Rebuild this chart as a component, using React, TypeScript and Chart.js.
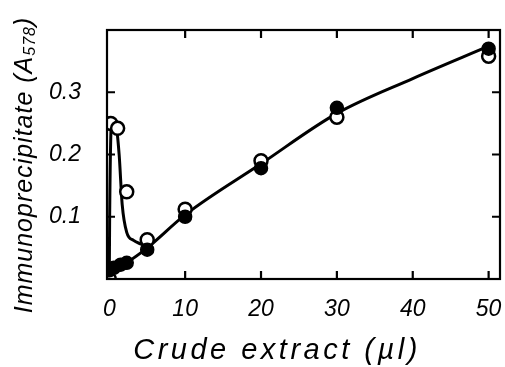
import React, { useEffect, useRef } from "react";
import { Chart, registerables } from "chart.js";

Chart.register(...registerables);

// Data
const openX = [0, 0.2, 1.1, 2.3, 5, 10, 20, 30, 50];
const openY = [0.0, 0.25, 0.242, 0.14, 0.063, 0.112, 0.19, 0.26, 0.358];
const filledX = [0, 0.6, 1.5, 2.3, 5, 10, 20, 30, 50];
const filledY = [0.014, 0.018, 0.023, 0.026, 0.047, 0.1, 0.178, 0.275, 0.37];

// Fitted curves (traced)
const mainCurveX = [0, 2.5, 5, 10, 20, 30, 40, 50];
const mainCurveY = [0.012, 0.028, 0.05, 0.103, 0.185, 0.266, 0.322, 0.374];
const peakCurveX = [0, 0.05, 0.3, 0.9, 1.3, 1.7, 2.3, 3.2, 4.2, 5];
const peakCurveY = [0.0, 0.1, 0.25, 0.245, 0.2, 0.12, 0.075, 0.062, 0.056, 0.052];

const xTickValues = [0, 10, 20, 30, 40, 50];
const xTickLabels = ["0", "10", "20", "30", "40", "50"];
const yTickValues = [0.1, 0.2, 0.3];
const yTickLabels = ["0.1", "0.2", "0.3"];

const xTitle = "Crude extract (\u00b5l)";
const yTitleMain = "Immunoprecipitate (A";
const yTitleSub = "578";
const yTitleEnd = ")";

const FONT = "'Liberation Sans', 'DejaVu Sans', sans-serif";

export default function App() {
  const ref = useRef<HTMLCanvasElement | null>(null);

  useEffect(() => {
    const canvas = ref.current!;
    const pts = (xs: number[], ys: number[]) => xs.map((x, i) => ({ x, y: ys[i] }));
    const noPad = () => ({ left: 0, right: 0, top: 0, bottom: 0 });

    const framePlugin = {
      id: "frame",
      afterDraw(chart: any) {
        const { ctx, chartArea } = chart;
        const xs = chart.scales.x;
        const ys = chart.scales.y;
        const { left, right, top, bottom } = chartArea;
        ctx.save();
        ctx.strokeStyle = "#000";
        ctx.lineWidth = 2.2;
        ctx.strokeRect(left, top, right - left, bottom - top);
        const tl = 8;
        ctx.beginPath();
        xTickValues.forEach((v) => {
          if (v === 0) return;
          const px = xs.getPixelForValue(v);
          ctx.moveTo(px, bottom);
          ctx.lineTo(px, bottom - tl);
          ctx.moveTo(px, top);
          ctx.lineTo(px, top + tl);
        });
        yTickValues.forEach((v) => {
          const py = ys.getPixelForValue(v);
          ctx.moveTo(left, py);
          ctx.lineTo(left + tl, py);
          ctx.moveTo(right, py);
          ctx.lineTo(right - tl, py);
        });
        ctx.stroke();

        // x title
        ctx.fillStyle = "#000";
        ctx.font = `italic 29px ${FONT}`;
        (ctx as any).letterSpacing = "3.5px";
        ctx.textAlign = "center";
        ctx.textBaseline = "middle";
        ctx.fillText(xTitle, 277, 351);

        // y title rotated with subscript
        ctx.save();
        ctx.translate(25, 165);
        ctx.rotate(-Math.PI / 2);
        ctx.textAlign = "left";
        ctx.textBaseline = "middle";
        (ctx as any).letterSpacing = "1px";
        const mainFont = `italic 25px ${FONT}`;
        const subFont = `italic 16px ${FONT}`;
        ctx.font = mainFont;
        const w1 = ctx.measureText(yTitleMain).width;
        const w3 = ctx.measureText(yTitleEnd).width;
        ctx.font = subFont;
        const w2 = ctx.measureText(yTitleSub).width;
        const total = w1 + w2 + w3;
        let x0 = -total / 2;
        ctx.font = mainFont;
        ctx.fillText(yTitleMain, x0, 0);
        x0 += w1;
        ctx.font = subFont;
        ctx.fillText(yTitleSub, x0, 6);
        x0 += w2;
        ctx.font = mainFont;
        ctx.fillText(yTitleEnd, x0, 0);
        ctx.restore();
        ctx.restore();
      },
    };

    const chart = new Chart(canvas, {
      type: "line",
      data: {
        datasets: [
          {
            label: "filled",
            data: pts(filledX, filledY),
            showLine: false,
            pointRadius: 6.5,
            pointBackgroundColor: "#000",
            pointBorderColor: "#000",
            pointBorderWidth: 1.5,
          },
          {
            label: "open",
            data: pts(openX, openY),
            showLine: false,
            pointRadius: 6.5,
            pointBackgroundColor: "#fff",
            pointBorderColor: "#000",
            pointBorderWidth: 2.5,
          },
          {
            label: "main",
            data: pts(mainCurveX, mainCurveY),
            borderColor: "#000",
            borderWidth: 3,
            pointRadius: 0,
            cubicInterpolationMode: "monotone",
            fill: false,
          },
          {
            label: "peak",
            data: pts(peakCurveX, peakCurveY),
            borderColor: "#000",
            borderWidth: 3,
            pointRadius: 0,
            cubicInterpolationMode: "monotone",
            fill: false,
          },
        ] as any,
      },
      options: {
        animation: false,
        responsive: false,
        maintainAspectRatio: false,
        layout: { autoPadding: false, padding: { top: 30, right: 5, left: 0, bottom: 0 } },
        plugins: { legend: { display: false }, tooltip: { enabled: false } },
        scales: {
          x: {
            type: "linear",
            min: -0.3,
            max: 51.5,
            grid: { display: false },
            border: { display: false },
            afterBuildTicks: (s: any) => {
              s.ticks = xTickValues.map((v) => ({ value: v }));
            },
            afterFit: (s: any) => {
              s.height = 88;
              s.paddingLeft = 0;
              s.paddingRight = 0;
              s.getPadding = noPad;
            },
            ticks: {
              padding: 9,
              color: "#000",
              font: { family: FONT, size: 23, style: "italic" },
              maxRotation: 0,
              callback: (v: any) => {
                const i = xTickValues.indexOf(Number(v));
                return i >= 0 ? xTickLabels[i] : "";
              },
            },
          },
          y: {
            type: "linear",
            min: 0,
            max: 0.4,
            grid: { display: false },
            border: { display: false },
            afterBuildTicks: (s: any) => {
              s.ticks = yTickValues.map((v) => ({ value: v }));
            },
            afterFit: (s: any) => {
              s.width = 107;
              s.paddingTop = 0;
              s.paddingBottom = 0;
              s.getPadding = noPad;
            },
            ticks: {
              padding: 18,
              color: "#000",
              font: { family: FONT, size: 23, style: "italic" },
              callback: (v: any) => {
                const i = yTickValues.findIndex((t) => Math.abs(t - Number(v)) < 1e-9);
                return i >= 0 ? yTickLabels[i] : "";
              },
            },
          },
        },
      } as any,
      plugins: [framePlugin],
    });
    return () => chart.destroy();
  }, []);

  return (
    <div style={{ position: "absolute", left: 0, top: 0, width: 505, height: 367, background: "#fff" }}>
      <canvas ref={ref} width={505} height={367} style={{ width: 505, height: 367 }} />
    </div>
  );
}
